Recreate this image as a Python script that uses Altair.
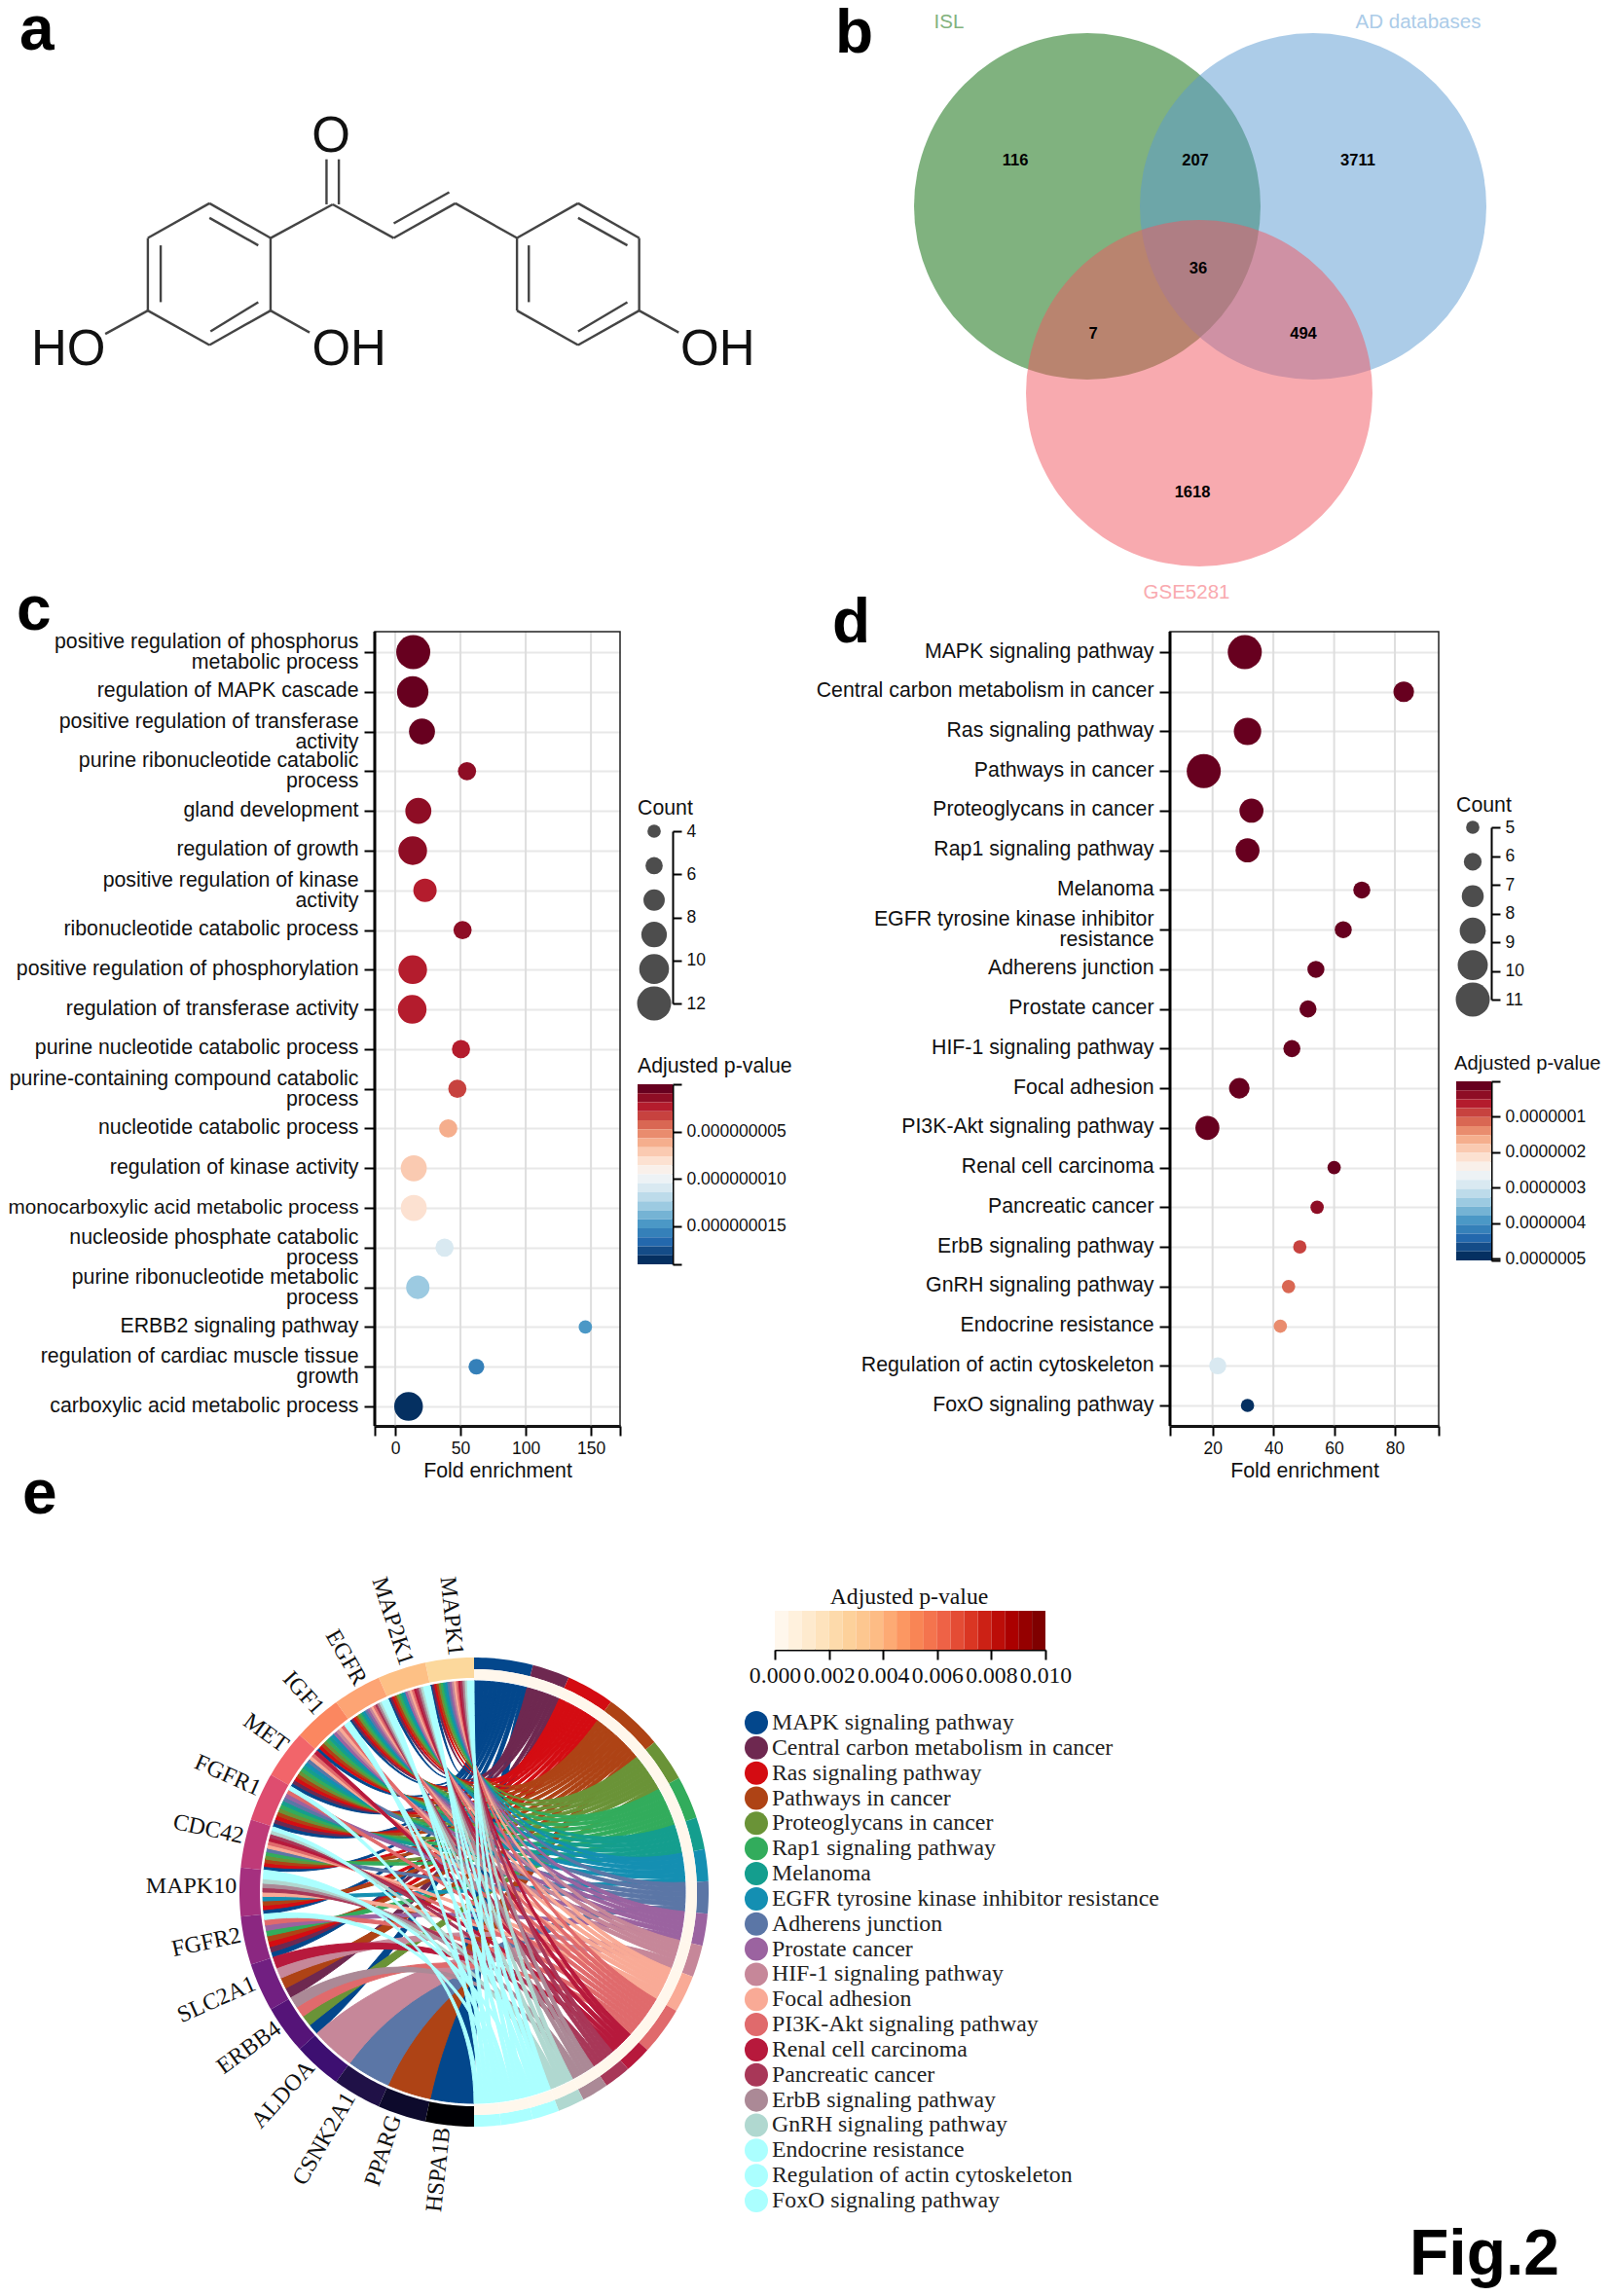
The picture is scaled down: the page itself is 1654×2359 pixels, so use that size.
import math
import altair as alt
import pandas as pd

W, H = 1638, 2343
SANS, SERIF = "Liberation Sans", "Liberation Serif"

# ---------- panel b
venn_names = ["ISL", "AD databases", "GSE5281"]
venn_numbers = ["116", "207", "3711", "36", "7", "494", "1618"]
# ---------- panel c
c_terms = ["positive regulation of phosphorus|metabolic process", "regulation of MAPK cascade",
           "positive regulation of transferase|activity", "purine ribonucleotide catabolic|process",
           "gland development", "regulation of growth", "positive regulation of kinase|activity",
           "ribonucleotide catabolic process", "positive regulation of phosphorylation",
           "regulation of transferase activity", "purine nucleotide catabolic process",
           "purine-containing compound catabolic|process", "nucleotide catabolic process",
           "regulation of kinase activity", "monocarboxylic acid metabolic process",
           "nucleoside phosphate catabolic|process", "purine ribonucleotide metabolic|process",
           "ERBB2 signaling pathway", "regulation of cardiac muscle tissue|growth",
           "carboxylic acid metabolic process"]
c_fold = [13.8, 13.4, 20.5, 55, 17.7, 13.4, 22.8, 51.6, 13.4, 13, 50.4, 47.6, 40.6, 14.2, 14.2, 37.8, 17.3, 145.7, 62.2, 10.2]
c_count = [12, 11, 9, 6, 9, 10, 8, 6, 10, 10, 6, 6, 6, 9, 9, 6, 8, 4, 5, 10]
c_padj = [0.2e-9, 0.4e-9, 0.6e-9, 1.2e-9, 1.4e-9, 1.6e-9, 2.1e-9, 1.8e-9, 2.2e-9, 2.4e-9, 2.6e-9, 3.3e-9,
          6.2e-9, 7.2e-9, 8.1e-9, 10.9e-9, 13.0e-9, 14.8e-9, 15.7e-9, 18.6e-9]
# ---------- panel d
d_terms = ["MAPK signaling pathway", "Central carbon metabolism in cancer", "Ras signaling pathway",
           "Pathways in cancer", "Proteoglycans in cancer", "Rap1 signaling pathway", "Melanoma",
           "EGFR tyrosine kinase inhibitor|resistance", "Adherens junction", "Prostate cancer",
           "HIF-1 signaling pathway", "Focal adhesion", "PI3K-Akt signaling pathway", "Renal cell carcinoma",
           "Pancreatic cancer", "ErbB signaling pathway", "GnRH signaling pathway", "Endocrine resistance",
           "Regulation of actin cytoskeleton", "FoxO signaling pathway"]
d_fold = [30.6, 82.9, 31.5, 17.1, 32.8, 31.5, 69.1, 63, 54, 51.4, 46.1, 28.8, 18.3, 60, 54.4, 48.7, 45, 42.3, 21.7, 31.5]
d_count = [11, 7, 9, 11, 8, 8, 6, 6, 6, 6, 6, 7, 8, 5, 5, 5, 5, 5, 6, 5]
d_padj = [.01e-7, .02e-7, .03e-7, .04e-7, .05e-7, .06e-7, .07e-7, .09e-7, .11e-7, .13e-7, .15e-7, .17e-7, .19e-7,
          .21e-7, .35e-7, .8e-7, 1.1e-7, 1.4e-7, 2.95e-7, 5.0e-7]
# ---------- panel e
pathways = [t.replace("|", " ") for t in d_terms]
genes = ["MAPK1", "MAP2K1", "EGFR", "IGF1", "MET", "FGFR1", "CDC42", "MAPK10", "FGFR2", "SLC2A1", "ERBB4",
         "ALDOA", "CSNK2A1", "PPARG", "HSPA1B"]
gene_colors = ["#FCD89C", "#FDC085", "#FDA474", "#FB8760", "#F2656A", "#DE4D6F", "#BF3A78", "#A5307F", "#8B2781",
               "#711F81", "#551478", "#3D0F71", "#201147", "#0D0A2C", "#000004"]
path_colors = ["#03478C", "#6E2850", "#D40C12", "#AE4315", "#6A9337", "#32AC5C", "#149E8E", "#148FB2", "#5B76A6",
               "#9B63A0", "#C68799", "#F9AA96", "#E06A6C", "#B7193C", "#A83758", "#AB8996", "#B0D8D0", "#ABFFFF",
               "#ABFFFF", "#ABFFFF"]
members = [
    ["MAPK1", "MAP2K1", "EGFR", "IGF1", "MET", "FGFR1", "CDC42", "MAPK10", "FGFR2", "ERBB4", "HSPA1B"],
    ["MAPK1", "MAP2K1", "EGFR", "MET", "FGFR1", "FGFR2", "SLC2A1"],
    ["MAPK1", "MAP2K1", "EGFR", "IGF1", "MET", "FGFR1", "CDC42", "MAPK10", "FGFR2"],
    ["MAPK1", "MAP2K1", "EGFR", "IGF1", "MET", "FGFR1", "CDC42", "MAPK10", "FGFR2", "SLC2A1", "PPARG"],
    ["MAPK1", "MAP2K1", "EGFR", "IGF1", "MET", "FGFR1", "CDC42", "ERBB4"],
    ["MAPK1", "MAP2K1", "EGFR", "IGF1", "MET", "FGFR1", "CDC42", "FGFR2"],
    ["MAPK1", "MAP2K1", "EGFR", "IGF1", "MET", "FGFR1"],
    ["MAPK1", "MAP2K1", "EGFR", "IGF1", "MET", "MAPK10"],
    ["MAPK1", "EGFR", "MET", "FGFR1", "CDC42", "CSNK2A1"],
    ["MAPK1", "MAP2K1", "EGFR", "IGF1", "FGFR1", "FGFR2"],
    ["MAPK1", "MAP2K1", "EGFR", "IGF1", "SLC2A1", "ALDOA"],
    ["MAPK1", "MAP2K1", "EGFR", "IGF1", "MET", "CDC42", "MAPK10"],
    ["MAPK1", "MAP2K1", "EGFR", "IGF1", "MET", "FGFR1", "CDC42", "FGFR2", "ERBB4"],
    ["MAPK1", "MAP2K1", "MET", "CDC42", "SLC2A1"],
    ["MAPK1", "MAP2K1", "EGFR", "CDC42", "MAPK10"],
    ["MAPK1", "MAP2K1", "EGFR", "MAPK10", "ERBB4"],
    ["MAPK1", "MAP2K1", "EGFR", "CDC42", "MAPK10"],
    ["MAPK1", "MAP2K1", "EGFR", "IGF1", "MAPK10"],
    ["MAPK1", "MAP2K1", "EGFR", "FGFR1", "CDC42", "FGFR2"],
    ["MAPK1", "MAP2K1", "EGFR", "IGF1", "MAPK10"],
]
# ---------- panel a: skeleton of the molecule, in the drawing's own units
bonds = [(408, 555, 527, 650), (527, 650, 527, 848), (527, 848, 408, 942), (408, 942, 288, 848), (288, 848, 288, 650),
         (288, 650, 408, 555), (408, 595, 503, 670), (313, 670, 313, 825), (410, 905, 503, 825), (527, 650, 648, 558),
         (636, 558, 636, 435), (660, 558, 660, 435), (648, 558, 767, 650), (767, 650, 887, 555), (767, 610, 875, 525),
         (887, 555, 1007, 650), (1007, 650, 1126, 555), (1126, 555, 1245, 650), (1245, 650, 1245, 848),
         (1245, 848, 1126, 942), (1126, 942, 1007, 848), (1007, 848, 1007, 650), (1126, 595, 1222, 670),
         (1030, 670, 1030, 825), (1126, 905, 1222, 825), (288, 848, 205, 912), (527, 848, 603, 908), (1245, 848, 1322, 908)]
atoms = [("O", 645, 374), ("HO", 133, 956), ("OH", 680, 956), ("OH", 1398, 956)]

# ---------- colour ramps
def ramp(anchors, n):
    rgb = [tuple(int(a[i:i + 2], 16) for i in (1, 3, 5)) for a in anchors]
    out = []
    for i in range(n):
        t = i / (n - 1) * (len(rgb) - 1)
        k = min(int(t), len(rgb) - 2)
        f = t - k
        out.append("#%02X%02X%02X" % tuple(round(rgb[k][j] * (1 - f) + rgb[k + 1][j] * f) for j in range(3)))
    return out

RDBU = ramp(["#67001F", "#B2182B", "#D6604D", "#F4A582", "#FDDBC7", "#F7F7F7", "#D1E5F0", "#92C5DE", "#4393C3",
             "#2166AC", "#053061"], 20)
ORRD = ramp(["#FFF7EC", "#FEE8C8", "#FDD49E", "#FDBB84", "#FC8D59", "#EF6548", "#D7301F", "#B30000", "#7F0000"], 20)

layers = []

def sx(domain, a, b, **k):
    return alt.Scale(domain=domain, range=[a - 8, b - 8], nice=False, zero=False, **k)

sy = sx

# ---------- free text, placed on a page-sized scale
PAGE_X = sx([0, 1654], 0, 1654)
PAGE_Y = sy([0, 2359], 0, 2359)

def texts(rows, font=SANS, weight="normal", align="left", baseline="alphabetic"):
    df = pd.DataFrame(rows, columns=["t", "x", "y", "s", "c"])
    return alt.Chart(df).mark_text(font=font, fontWeight=weight, align=align, baseline=baseline).encode(
        x=alt.X("x:Q", scale=PAGE_X, axis=None), y=alt.Y("y:Q", scale=PAGE_Y, axis=None),
        text="t:N", size=alt.Size("s:Q", scale=None, legend=None), color=alt.Color("c:N", scale=None, legend=None))

# ---------- a
mdf = pd.DataFrame(bonds, columns=["x", "y", "x2", "y2"])
MX = sx([0, 1568], 0, 827)
MY = sy([0, 1568], 0, 590)
layers.append(alt.Chart(mdf).mark_rule(color="#444444", strokeWidth=2.4).encode(
    x=alt.X("x:Q", scale=MX, axis=None), y=alt.Y("y:Q", scale=MY, axis=None), x2="x2:Q", y2="y2:Q"))
layers.append(alt.Chart(pd.DataFrame(atoms, columns=["t", "x", "y"])).mark_text(
    font=SANS, fontSize=51, color="#111111", baseline="middle").encode(
    x=alt.X("x:Q", scale=MX, axis=None), y=alt.Y("y:Q", scale=MY, axis=None), text="t:N"))

# ---------- b
vdf = pd.DataFrame({"set": venn_names, "x": [1117, 1349, 1232], "y": [212, 212, 404], "d": [356, 356, 356]})
vdf["area"] = vdf["d"] ** 2
for name, col in zip(venn_names, ["#016500", "#5999D1", "#F1555F"]):
    layers.append(alt.Chart(vdf[vdf["set"] == name]).mark_circle(opacity=0.5, color=col).encode(
        x=alt.X("x:Q", scale=PAGE_X, axis=None), y=alt.Y("y:Q", scale=PAGE_Y, axis=None),
        size=alt.Size("area:Q", scale=None, legend=None)))
layers.append(texts([("ISL", 975, 23, 20.5, "#82B27D"), ("AD databases", 1457, 23, 20.5, "#ACCCE8"),
                     ("GSE5281", 1219, 609, 20.5, "#F9AAAF")], align="center", baseline="middle"))
layers.append(texts([(n, x, y, 16.5, "#000000") for n, x, y in zip(
    venn_numbers, [1043, 1228, 1395, 1231, 1123, 1339, 1225], [165, 165, 165, 276, 343, 343, 506])],
    weight="bold", align="center", baseline="middle"))

# ---------- c, d
SIZE_RANGE = [188, 1225]

def bubble_panel(terms, fold, count, padj, x0, x1, xdom, xticks, ytop, ybot, ftop, fbot, cdom, pdom, label_rule):
    rows = pd.DataFrame({"term": terms, "fold": fold, "count": count, "padj": padj})
    xs = sx(xdom, x0, x1)
    ys = alt.Scale(type="point", domain=terms, range=[ytop - 8, ybot - 8], padding=0)
    fr = pd.DataFrame({"x0": [xdom[0]], "x1": [xdom[1]], "y0": [0], "y1": [1]})
    fy = sy([0, 1], ftop, fbot)
    gr = pd.DataFrame({"v": xticks[1:-1], "y0": 0, "y1": 1})
    axis_x = alt.Axis(orient="bottom", offset=-(H - (fbot - 8)), values=xticks, labelExpr=label_rule, grid=False,
                      domain=True, domainColor="#000000", domainWidth=3,
                      tickColor="#000000", tickWidth=2, tickSize=10, labelFont=SANS, labelFontSize=17.5,
                      labelColor="#111111", labelPadding=4, labelOverlap=False, labelFlush=False, labelBound=False,
                      title="Fold enrichment", titleFont=SANS, titleFontSize=21.3, titleFontWeight="normal",
                      titleColor="#111111", titlePadding=4)
    axis_y = alt.Axis(orient="left", offset=-(x0 - 8), grid=True, gridColor="#E8E8E8", gridWidth=2, domain=False,
                      tickColor="#000000", tickWidth=2, tickSize=11, labelFont=SANS,
                      labelFontSize={"condition": {"test": "datum.value == 'monocarboxylic acid metabolic process'",
                                                   "value": 20.7}, "value": 21.3},
                      labelColor="#111111", labelPadding=6, labelOverlap=False, labelBound=False, labelLimit=500,
                      labelLineHeight=21, labelExpr="split(datum.label, '|')", title=None,
                      labelOffset={"condition": {"test": "indexof(datum.value, '|') >= 0", "value": -10.5}, "value": -1})
    vgrid = alt.Chart(gr).mark_rule(color="#DEDEDE", strokeWidth=2).encode(
        x=alt.X("v:Q", scale=xs, axis=None), y=alt.Y("y0:Q", scale=fy, axis=None), y2="y1:Q")
    bubbles = alt.Chart(rows).mark_circle(opacity=1).encode(
        x=alt.X("fold:Q", scale=xs, axis=axis_x), y=alt.Y("term:N", scale=ys, axis=axis_y, sort=None),
        size=alt.Size("count:Q", scale=alt.Scale(type="pow", exponent=2, domain=cdom, range=SIZE_RANGE), legend=None),
        color=alt.Color("padj:Q", scale=alt.Scale(type="quantize", domain=pdom, range=RDBU), legend=None))
    frame = alt.Chart(fr).mark_rect(fill="transparent", stroke="#222222", strokeWidth=1.5).encode(
        x=alt.X("x0:Q", scale=xs, axis=None), x2="x1:Q", y=alt.Y("y0:Q", scale=fy, axis=None), y2="y1:Q")
    left = alt.Chart(fr).mark_rule(color="#000000", strokeWidth=3).encode(
        x=alt.X("x0:Q", scale=xs, axis=None), y=alt.Y("y0:Q", scale=fy, axis=None), y2="y1:Q")
    return [vgrid, bubbles, frame, left]

layers += bubble_panel(c_terms, c_fold, c_count, c_padj, 385, 637, [-15.7, 172.3], [-15.7, 0, 50, 100, 150, 172.3],
                       670, 1445, 649, 1465, [4, 12], [0, 19.07e-9],
                       "(datum.value < 0 || datum.value > 160) ? '' : datum.label")
layers += bubble_panel(d_terms, d_fold, d_count, d_padj, 1202, 1478, [6, 94.4], [6, 20, 40, 60, 80, 94.4],
                       670, 1444, 649, 1465, [5, 11], [0, 5.05e-7],
                       "(datum.value < 10 || datum.value > 90) ? '' : datum.label")

def count_legend(cx, axis_x, y0, y1, cdom, circles, ticks):
    df = pd.DataFrame({"count": circles, "pos": [0] * len(circles)})
    return alt.Chart(df).mark_circle(opacity=1, color="#4D4D4D").encode(
        x=alt.X("pos:Q", scale=sx([-1, 1], cx - 10, cx + 10), axis=None),
        y=alt.Y("count:Q", scale=sy(cdom, y0, y1), axis=alt.Axis(
            orient="right", offset=-(W - (axis_x - 8)), values=ticks, format="d", domainColor="#000000", domainWidth=2,
            tickColor="#000000", tickWidth=2, tickSize=9, labelFont=SANS, labelFontSize=17.5, labelColor="#111111",
            labelPadding=5, grid=False, title=None, labelOverlap=False, labelBound=False)),
        size=alt.Size("count:Q", scale=alt.Scale(type="pow", exponent=2, domain=cdom, range=SIZE_RANGE), legend=None))

def p_bar(x0, x1, y0, y1, pdom, ticks, fmt, hide_rule):
    n = len(RDBU)
    step = pdom[1] / n
    df = pd.DataFrame({"lo": [i * step for i in range(n)], "hi": [(i + 1) * step for i in range(n)],
                       "a": [0] * n, "b": [1] * n})
    df["mid"] = (df["lo"] + df["hi"]) / 2
    return alt.Chart(df).mark_rect().encode(
        x=alt.X("a:Q", scale=sx([0, 1], x0, x1), axis=None), x2="b:Q",
        y=alt.Y("lo:Q", scale=sy(pdom, y0, y1), axis=alt.Axis(
            orient="right", offset=-(W - (x1 - 8)), values=ticks, format=fmt, domainColor="#000000", domainWidth=2,
            tickColor="#000000", tickWidth=2, tickSize=9, labelFont=SANS, labelFontSize=17.5, labelColor="#111111",
            labelPadding=5, grid=False, title=None, labelOverlap=False, labelBound=False,
            labelExpr=hide_rule)),
        y2="hi:Q",
        color=alt.Color("mid:Q", scale=alt.Scale(type="quantize", domain=pdom, range=RDBU), legend=None))

layers.append(count_legend(672, 691, 854, 1031, [4, 12], [4, 5.6, 7.2, 8.8, 10.4, 12], [4, 6, 8, 10, 12]))
layers.append(count_legend(1513, 1532, 850, 1027, [5, 11], [5, 6.2, 7.4, 8.6, 9.8, 11], [5, 6, 7, 8, 9, 10, 11]))
layers.append(p_bar(655, 691, 1114, 1299, [0, 19.07e-9], [0, 5e-9, 10e-9, 15e-9, 19.07e-9], ".9f",
                    "(datum.value == 0 || datum.value > 16e-9) ? '' : datum.label"))
layers.append(p_bar(1496, 1532, 1111, 1295, [0, 5.05e-7], [0, 1e-7, 2e-7, 3e-7, 4e-7, 5e-7, 5.05e-7], ".7f",
                    "(datum.value == 0 || datum.value > 5.01e-7) ? '' : datum.label"))
layers.append(texts([("Count", 655, 837, 21.3, "#111111"), ("Adjusted p-value", 655, 1102, 21.3, "#111111"),
                     ("Count", 1496, 834, 21.3, "#111111"), ("Adjusted p-value", 1494, 1099, 20.2, "#111111")]))

# ---------- e: chord diagram
CX, CY, R = 487, 1944, 241.0
R_LINK, R_PATH, R_GENE = 217 / R, 229 / R, 220 / R
GENE_SPAN = 180.0 / len(genes)
counts = [len(m) for m in members]
unit = 180.0 / sum(counts)
PULL = 0.42

def pt(alpha, r=1.0):
    a = math.radians(alpha)
    return [round(r * math.sin(a), 4), round(-r * math.cos(a), 4)]

def arc(a0, a1, r):
    n = max(2, int(abs(a1 - a0)) + 2)
    return [pt(a0 + (a1 - a0) * i / (n - 1), r) for i in range(n)]

def sector(a0, a1, r0, r1, **props):
    ring = arc(a0, a1, r1) + arc(a1, a0, r0)
    ring.append(ring[0])
    return {"type": "Feature", "geometry": {"type": "Polygon", "coordinates": [ring]}, "properties": props}

def curve(p, q, n=34):
    out = []
    for i in range(n):
        t = i / (n - 1)
        a = (1 - t) ** 3 + 3 * (1 - t) ** 2 * t * PULL
        b = t ** 3 + 3 * (1 - t) * t ** 2 * PULL
        out.append([round(a * p[0] + b * q[0], 4), round(a * p[1] + b * q[1], 4)])
    return out

gene_links = {g: [i for i, m in enumerate(members) if g in m] for g in genes}
links, path_ring, heat_ring, gene_ring = [], [], [], []
start = 0.0
for i, name in enumerate(pathways):
    span = counts[i] * unit
    path_ring.append(sector(start, start + span, R_PATH, 1.0, name=name))
    heat_ring.append(sector(start, start + span, R_LINK + 0.005, R_PATH, padj=d_padj[i]))
    ordered = sorted(members[i], key=genes.index)
    w = span / len(ordered)
    for j, g in enumerate(ordered):
        g_i = genes.index(g)
        k = gene_links[g].index(i)
        gw = GENE_SPAN / len(gene_links[g])
        hi = (g_i + 1) * GENE_SPAN - k * gw
        lo = hi - gw
        p0, p1 = start + j * w, start + (j + 1) * w
        ring = arc(p0, p1, R_LINK) + curve(pt(p1, R_LINK), pt(-hi, R_LINK))[1:] + arc(-hi, -lo, R_LINK)[1:] + \
            curve(pt(-lo, R_LINK), pt(p0, R_LINK))[1:]
        links.append({"type": "Feature", "geometry": {"type": "Polygon", "coordinates": [ring]},
                      "properties": {"name": name, "gene": g}})
    start += span
for g_i, g in enumerate(genes):
    gene_ring.append(sector(-g_i * GENE_SPAN, -(g_i + 1) * GENE_SPAN, R_GENE, 1.0, name=g))

PROJ = dict(type="identity", scale=R, translate=[CX - 8, CY - 8])
path_scale = alt.Scale(domain=pathways, range=path_colors)
layers.append(alt.Chart(alt.Data(values=links)).mark_geoshape(strokeWidth=1.0).encode(
    color=alt.Color("properties.name:N", scale=path_scale, legend=None),
    stroke=alt.Stroke("properties.name:N", scale=path_scale, legend=None)).project(**PROJ))
layers.append(alt.Chart(alt.Data(values=path_ring)).mark_geoshape(strokeWidth=0).encode(
    color=alt.Color("properties.name:N", scale=path_scale, legend=None)).project(**PROJ))
layers.append(alt.Chart(alt.Data(values=heat_ring)).mark_geoshape(strokeWidth=0).encode(
    color=alt.Color("properties.padj:Q", scale=alt.Scale(type="quantize", domain=[0, 0.01], range=ORRD), legend=None)).project(**PROJ))
layers.append(alt.Chart(alt.Data(values=gene_ring)).mark_geoshape(strokeWidth=0).encode(
    color=alt.Color("properties.name:N", scale=alt.Scale(domain=genes, range=gene_colors), legend=None)).project(**PROJ))

gdf = pd.DataFrame({"gene": genes})
gdf["theta"] = [(i + 0.5) * GENE_SPAN for i in range(len(genes))]
gdf["x"] = [-math.sin(math.radians(t - 1.5)) * 1.012 for t in gdf["theta"]]
gdf["y"] = [-math.cos(math.radians(t - 1.5)) * 1.012 for t in gdf["theta"]]
gdf["rot"] = [(90 - t) % 360 for t in gdf["theta"]]
layers.append(alt.Chart(gdf).mark_text(font=SERIF, fontSize=24, align="right", baseline="middle", color="#111111").encode(
    x=alt.X("x:Q", scale=sx([-1, 1], CX - R, CX + R), axis=None),
    y=alt.Y("y:Q", scale=sy([-1, 1], CY - R, CY + R), axis=None),
    text="gene:N", angle=alt.Angle("rot:Q", scale=None)))

# e: p-value colour bar
n = len(ORRD)
bar = pd.DataFrame({"lo": [i * 0.01 / n for i in range(n)], "hi": [(i + 1) * 0.01 / n for i in range(n)],
                    "a": [0] * n, "b": [1] * n})
bar["mid"] = (bar["lo"] + bar["hi"]) / 2
layers.append(alt.Chart(bar).mark_rect().encode(
    x=alt.X("lo:Q", scale=sx([0, 0.01], 796, 1074), axis=alt.Axis(
        orient="bottom", offset=-(H - (1695 - 8)), values=[0, 0.002, 0.004, 0.006, 0.008, 0.01], format=".3f",
        domainColor="#000000", domainWidth=2, tickColor="#000000", tickWidth=2, tickSize=10, labelFont=SERIF,
        labelFontSize=23.7, labelColor="#111111", labelPadding=4, labelOverlap=False, labelFlush=False, labelBound=False,
        grid=False, title=None)),
    x2="hi:Q",
    y=alt.Y("a:Q", scale=sy([0, 1], 1655, 1695), axis=None), y2="b:Q",
    color=alt.Color("mid:Q", scale=alt.Scale(type="quantize", domain=[0, 0.01], range=ORRD), legend=None)))
layers.append(texts([("Adjusted p-value", 934, 1641, 23.7, "#111111")], font=SERIF, align="center", baseline="middle"))

# e: pathway key
key = pd.DataFrame({"name": pathways, "pos": [0] * len(pathways)})
key_y = alt.Scale(type="point", domain=pathways, range=[1770 - 8, 2261 - 8], padding=0)
key_x = sx([-1, 1], 767, 787)
layers.append(alt.Chart(key).mark_circle(opacity=1, size=576).encode(
    x=alt.X("pos:Q", scale=key_x, axis=None), y=alt.Y("name:N", scale=key_y, axis=None, sort=None),
    color=alt.Color("name:N", scale=path_scale, legend=None)))
layers.append(alt.Chart(key).mark_text(font=SERIF, fontSize=23.8, align="left", baseline="middle", dx=16, color="#222222").encode(
    x=alt.X("pos:Q", scale=key_x, axis=None), y=alt.Y("name:N", scale=key_y, axis=None, sort=None), text="name:N"))

# ---------- panel letters
layers.append(texts([("a", 20, 51, 64, "#000000"), ("b", 858, 54, 64, "#000000"), ("c", 17, 647, 64, "#000000"),
                     ("d", 855, 660, 64, "#000000"), ("e", 23, 1555, 64, "#000000"), ("Fig.2", 1448, 2337, 66, "#000000")],
                    weight="bold"))

chart = alt.layer(*layers).resolve_scale(x="independent", y="independent", color="independent", size="independent").properties(
    width=W, height=H, padding=0, background="#FFFFFF", autosize=alt.AutoSizeParams(type="none")).configure_view(stroke=None)
chart.save("out.html", embed_options={"renderer": "svg", "actions": False})
